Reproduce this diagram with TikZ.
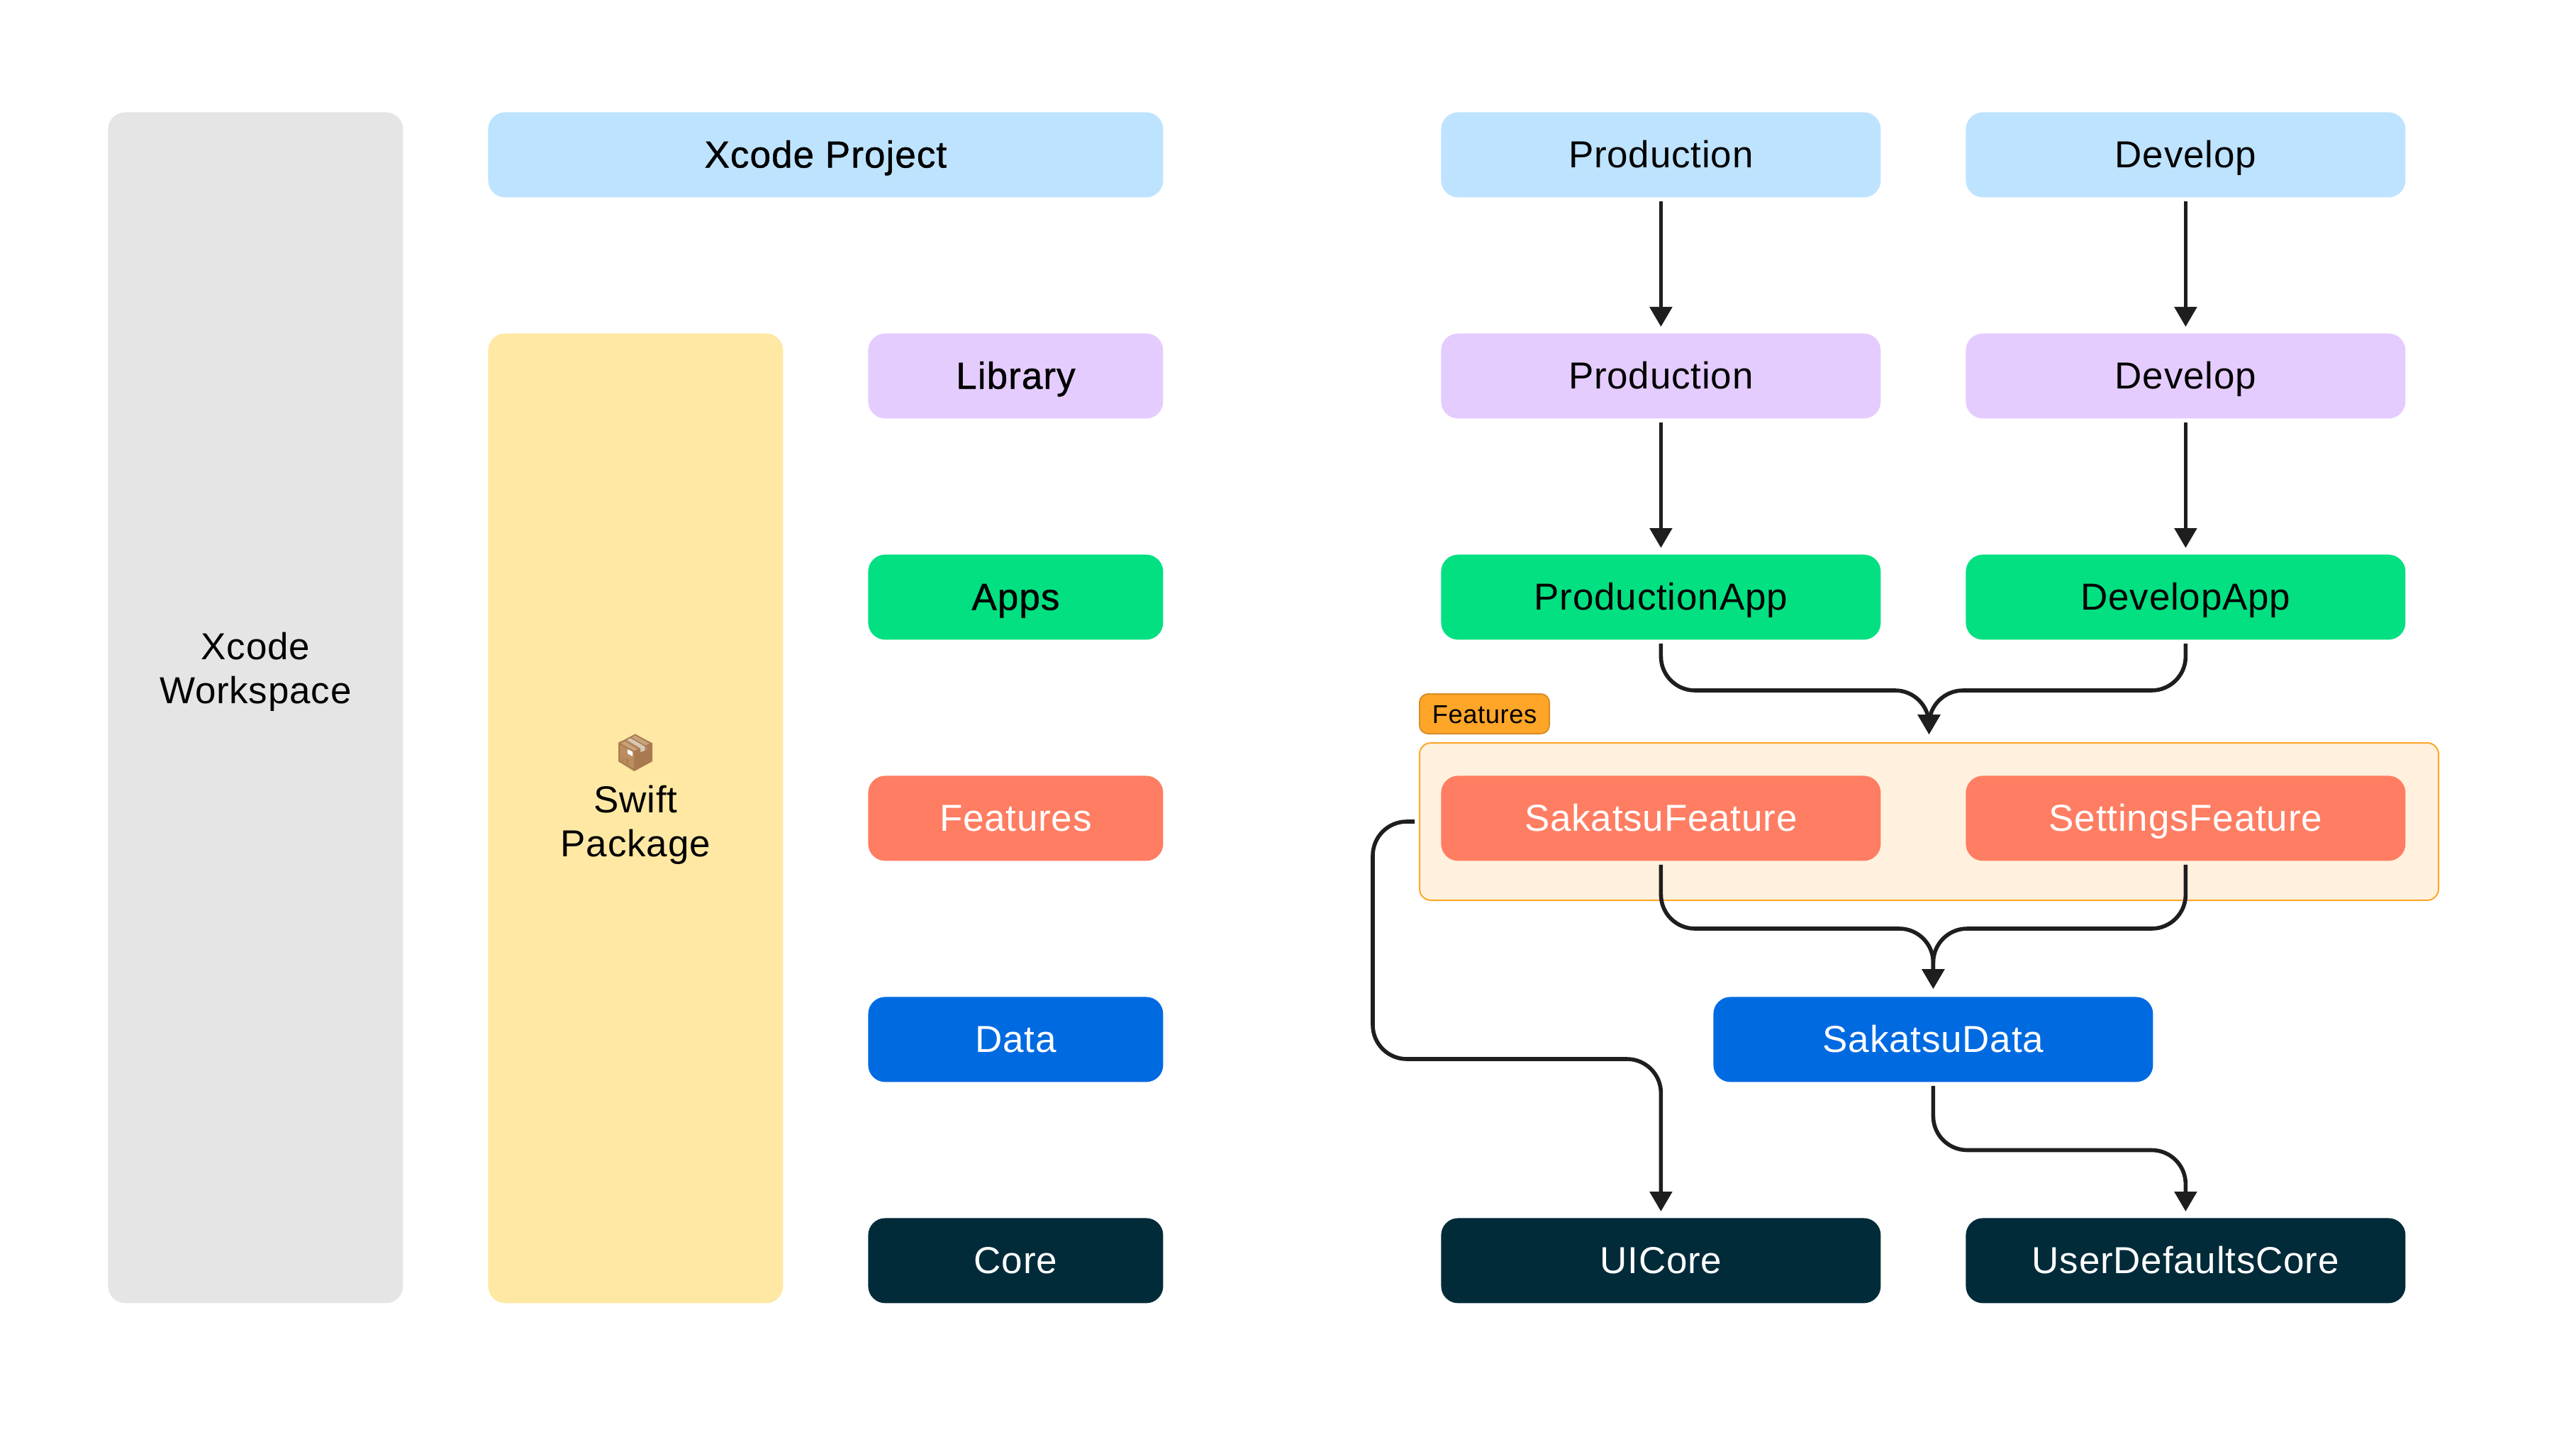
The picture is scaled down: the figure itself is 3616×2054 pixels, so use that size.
\documentclass[tikz,border=0pt]{standalone}
\usepackage{fontspec}
\usetikzlibrary{arrows.meta,calc}
\setmainfont[LetterSpace=1.5]{Liberation Sans}
\newfontfamily\medfont[FakeBold=0.9,LetterSpace=2]{Liberation Sans}
\newfontfamily\emojifont{Noto Emoji}
\definecolor{cGrey}{HTML}{E5E5E5}
\definecolor{cBlue}{HTML}{BDE3FF}
\definecolor{cYellow}{HTML}{FFE8A3}
\definecolor{cPurple}{HTML}{E4CCFF}
\definecolor{cGreen}{HTML}{02E082}
\definecolor{cRed}{HTML}{FF7D62}
\definecolor{cData}{HTML}{006AE1}
\definecolor{cCore}{HTML}{022B3A}
\definecolor{cGroup}{HTML}{FFF1DE}
\definecolor{cAmber}{HTML}{FFA629}
\definecolor{cAmberD}{HTML}{D98D24}
\definecolor{cLine}{HTML}{1E1E1E}
\definecolor{cBoxTop}{HTML}{C9A27A}
\definecolor{cBoxLeft}{HTML}{BC8D60}
\definecolor{cBoxRight}{HTML}{A97A50}
\definecolor{cBoxTape}{HTML}{D8C8B4}
\tikzset{
  base/.style={rectangle,rounded corners=12pt,inner sep=0pt,text height=18pt,text depth=0pt,font=\fontsize{26.5}{31}\selectfont,anchor=north west},
  tall/.style={rectangle,rounded corners=12pt,inner sep=0pt,font=\fontsize{26.5}{31}\selectfont,align=center,text=black,anchor=north west,minimum width=208pt},
  wide/.style={base,minimum width=310pt,minimum height=60pt},
  tag/.style={base,minimum width=208pt,minimum height=60pt},
  strong/.style={font=\fontsize{26.5}{31}\medfont},
  conn/.style={draw=cLine,line width=2.8pt,rounded corners=24pt,-{Triangle[length=14pt,width=15.5pt]}},
  straight/.style={conn,shorten <=2.5pt,shorten >=4.5pt},
  merged/.style={conn,shorten <=2.5pt,shorten >=5.5pt},
}
\begin{document}
\begin{tikzpicture}[x=0.5pt,y=-0.5pt]
\useasboundingbox (0,0) rectangle (3616,2054);
% left columns
\node[tall,fill=cGrey,minimum height=840pt] (workspace) at (152,158) {Xcode\\Workspace\rule[-56pt]{0pt}{1pt}};
\node[tall,fill=cYellow,minimum height=684pt] (package) at (688,470) {\rule{0pt}{28.5pt}Swift\\Package};
\node[base,fill=cBlue,minimum width=476pt,minimum height=60pt,strong] (project) at (688,158) {Xcode Project};
% packaged emoji
\fill[cBoxLeft] (872,1047) -- (894,1059) -- (894,1088) -- (872,1074) -- cycle;
\fill[cBoxRight] (920,1048) -- (894,1059) -- (894,1088) -- (920,1074) -- cycle;
\fill[cBoxTop] (897,1037) -- (920,1048) -- (894,1059) -- (872,1047) -- cycle;
\fill[cBoxTape] (882,1042) -- (890,1039) -- (912,1052) -- (903,1055) -- (903,1061) -- (912,1058) -- (912,1052) -- (903,1055) -- cycle;
\fill[white] (885,1057) -- (892,1060) -- (892,1067) -- (885,1063) -- cycle;
\node[inner sep=0pt,font=\fontsize{25}{30}\emojifont,text=cBoxRight] (emoji) at (896,1062) {📦};
% tag column
\node[tag,fill=cPurple,strong] (tLibrary) at (1224,470) {Library};
\node[tag,fill=cGreen,strong] (tApps) at (1224,782) {Apps};
\node[tag,fill=cRed,text=white] (tFeatures) at (1224,1094) {Features};
\node[tag,fill=cData,text=white] (tData) at (1224,1406) {Data};
\node[tag,fill=cCore,text=white] (tCore) at (1224,1718) {Core};
% group
\node[rectangle,draw=cAmber,fill=cGroup,line width=1pt,rounded corners=8pt,minimum width=718.5pt,minimum height=111pt,inner sep=0pt,anchor=north west] (group) at (2001,1047) {};
\node[rectangle,draw=cAmberD,fill=cAmber,line width=1pt,rounded corners=6pt,minimum width=91.5pt,minimum height=28pt,inner sep=0pt,anchor=north west,font=\fontsize{18.2}{22}\selectfont,text=black,text height=13pt,text depth=0pt] (badge) at (2001,978) {Features};
% right columns
\node[wide,fill=cBlue] (pA) at (2032,158) {Production};
\node[wide,fill=cBlue] (dA) at (2772,158) {Develop};
\node[wide,fill=cPurple] (pB) at (2032,470) {Production};
\node[wide,fill=cPurple] (dB) at (2772,470) {Develop};
\node[wide,fill=cGreen] (pApp) at (2032,782) {ProductionApp};
\node[wide,fill=cGreen] (dApp) at (2772,782) {DevelopApp};
\node[wide,fill=cRed,text=white] (sakF) at (2032,1094) {SakatsuFeature};
\node[wide,fill=cRed,text=white] (setF) at (2772,1094) {SettingsFeature};
\node[wide,fill=cData,text=white] (sakD) at (2416,1406) {SakatsuData};
\node[wide,fill=cCore,text=white] (uiC) at (2032,1718) {UICore};
\node[wide,fill=cCore,text=white] (udC) at (2772,1718) {UserDefaultsCore};
% bend points
\coordinate (mergeA) at (group.north |- 0,974);
\coordinate (mergeB) at (sakD.north |- 0,1310);
\coordinate (routeA) at (1936,1494);
\coordinate (routeB) at (sakD.south |- 0,1622.5);
% connectors
\draw[straight] (pA.south) -- (pB.north);
\draw[straight] (dA.south) -- (dB.north);
\draw[straight] (pB.south) -- (pApp.north);
\draw[straight] (dB.south) -- (dApp.north);
\draw[merged] (pApp.south) |- (mergeA) -- (group.north);
\draw[merged] (dApp.south) |- (mergeA) -- (group.north);
\draw[merged] (sakF.south) |- (mergeB) -- (sakD.north);
\draw[merged] (setF.south) |- (mergeB) -- (sakD.north);
\draw[conn,shorten <=3pt,shorten >=4.5pt] (group.west) -| (routeA) -| (uiC.north);
\draw[conn,shorten <=2.5pt,shorten >=4.5pt] (sakD.south) -- (routeB) -| (udC.north);
\end{tikzpicture}
\end{document}
